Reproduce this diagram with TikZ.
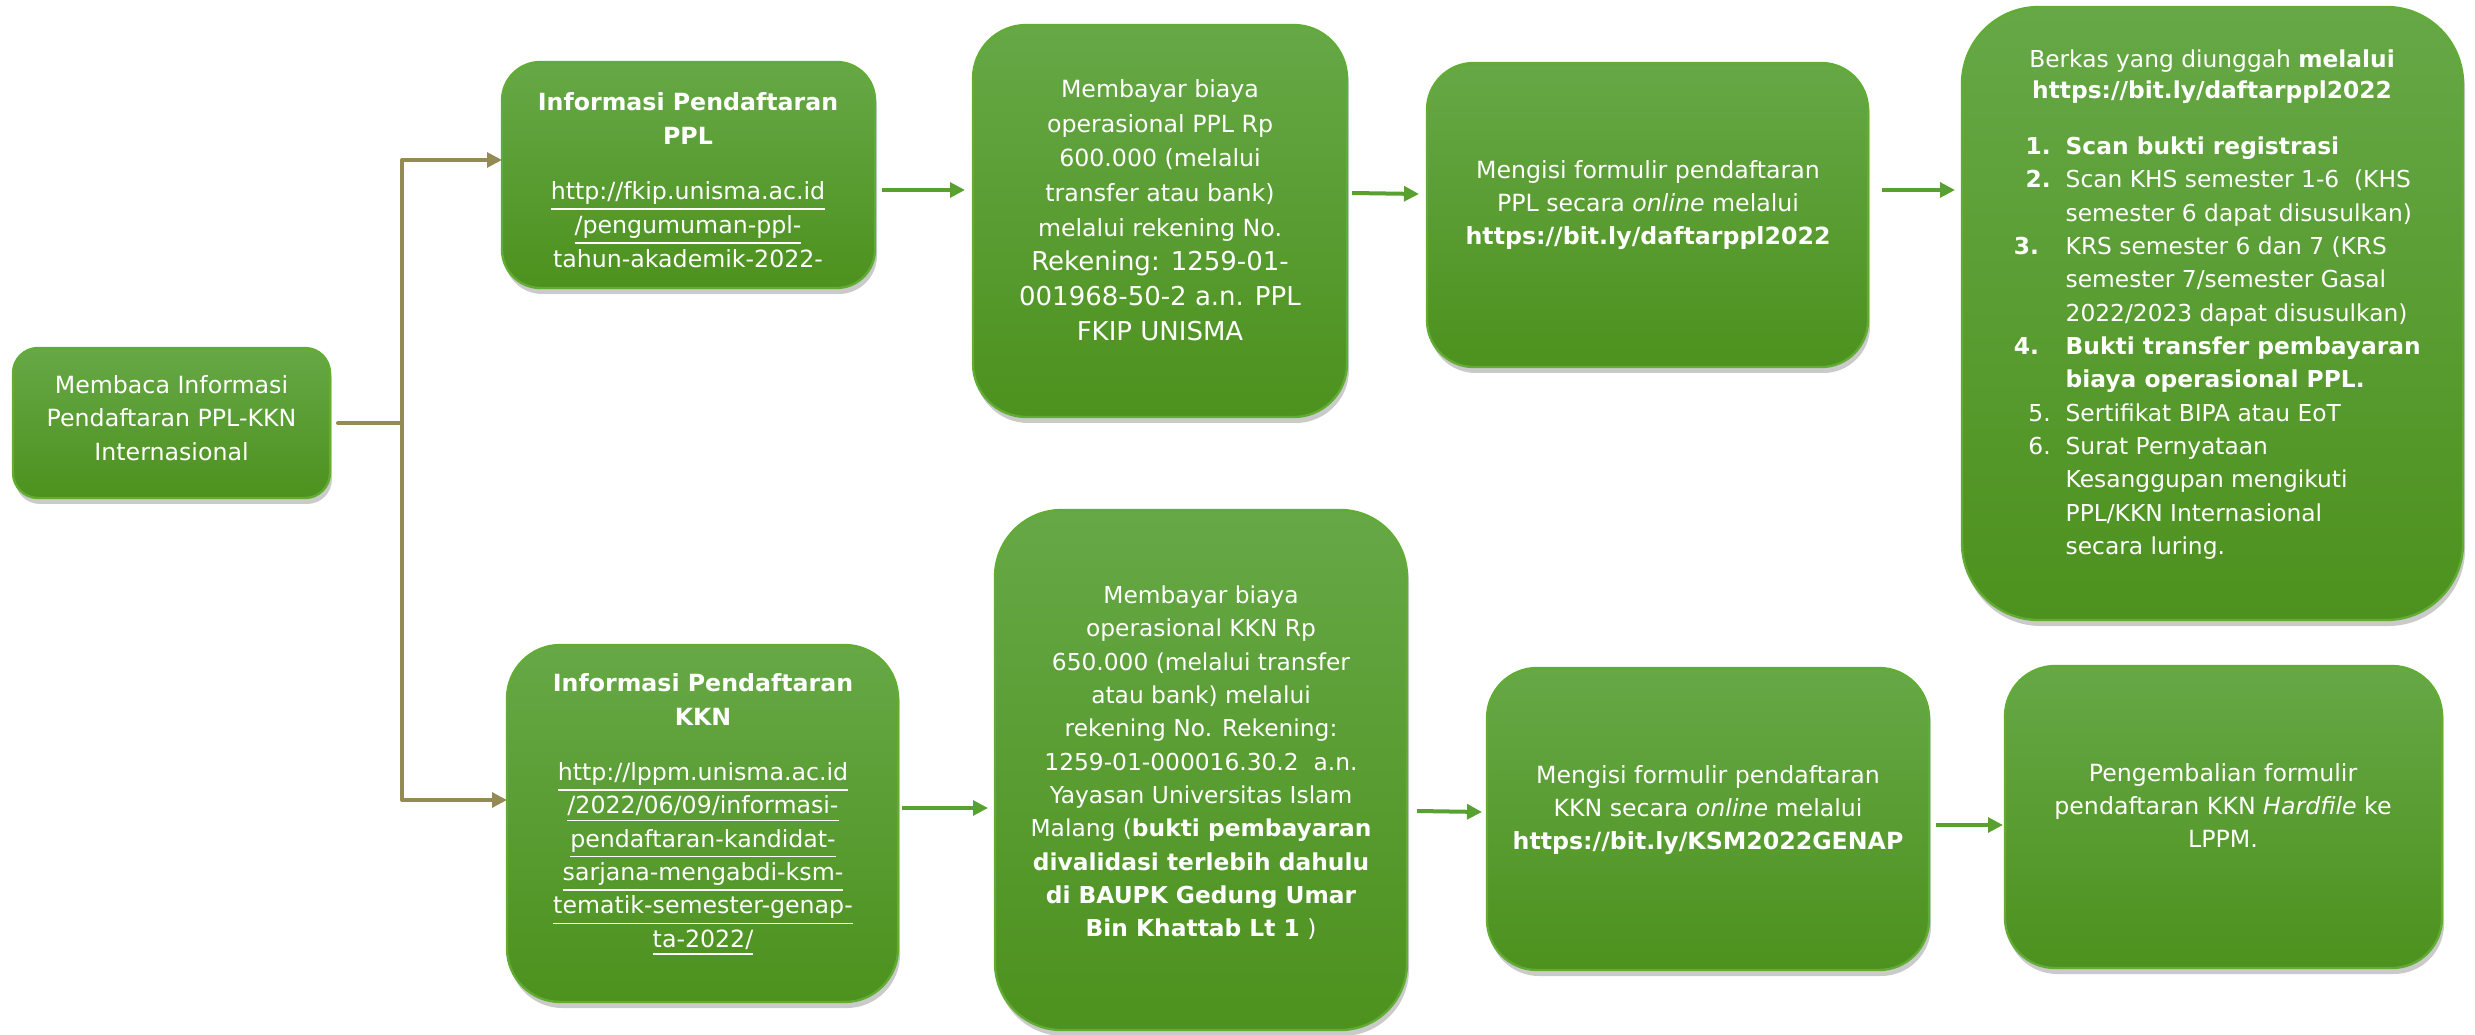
\documentclass[tikz,border=0pt]{standalone}
\usepackage{fontspec}
\setmainfont{DejaVu Sans}
\usetikzlibrary{shadows,calc,arrows.meta}
\definecolor{gTop}{RGB}{102,168,70}
\definecolor{gBot}{RGB}{77,145,30}
\definecolor{gEdge}{RGB}{96,172,52}
\definecolor{gArrow}{RGB}{88,160,48}
\definecolor{trunkC}{RGB}{148,138,84}
\newcommand\fs[2]{\fontsize{#1}{#2}\selectfont}
% name, x1, y1, x2, y2, corner radius (pt)
\newcommand\gbox[6]{%
  \pgfmathsetmacro\gbw{(#4-#2)*0.3}%
  \pgfmathsetmacro\gbh{(#5-#3)*0.3}%
  \node[gshape, rounded corners=#6pt, minimum width=\gbw pt, minimum height=\gbh pt]
    (#1) at ({(#2+#4)/2},{(#3+#5)/2}) {};}
\begin{document}
\begin{tikzpicture}[x=0.3pt,y=-0.3pt,
  gshape/.style={draw=gEdge, line width=0.7pt, inner sep=0pt, outer sep=0pt,
    top color=gTop, bottom color=gBot,
    drop shadow={opacity=0.28, fill=black!75, shadow xshift=0.6pt, shadow yshift=-1.8pt}},
  txt/.style={text=white, align=center, inner sep=0pt, font=\fs{7.1pt}{10.2pt}},
  garrow/.style={draw=gArrow, line width=1.2pt, -{Triangle[length=4.5pt,width=4.4pt]}},
  tline/.style={draw=trunkC, line width=1.2pt, line cap=round},
  tarrow/.style={draw=trunkC, line width=1.2pt, -{Triangle[length=4.5pt,width=4.4pt]}}]
\useasboundingbox (0,0) rectangle (2475,1035);

% boxes
\gbox{b1}{13}{348}{330}{498}{7.5}
\gbox{b2}{502}{62}{875}{288}{11.5}
\gbox{b3}{973}{25}{1347}{417}{16}
\gbox{b4}{1427}{63}{1868}{367}{14}
\gbox{b5}{1962}{7}{2463}{620}{23}
\gbox{b6}{507}{645}{898}{1002}{16}
\gbox{b7}{995}{510}{1407}{1030}{20}
\gbox{b8}{1487}{668}{1929}{970}{15}
\gbox{b9}{2005}{666}{2442}{968}{15}

% trunk
\coordinate (jm) at (402,423);
\coordinate (jt) at (402,160);
\coordinate (jb) at (402,800);
\draw[tline] ($(b1.east)+(8,0)$) -- (jm);
\draw[tline] (jt) -- (jb);
\draw[tarrow] (jt) -- (b2.west |- jt);
\draw[tarrow] (jb) -- (b6.west |- jb);

% green arrows
\draw[garrow] ($(b2.east |- 0,190)+(7,0)$) -- ($(b3.west |- 0,190)+(-8,0)$);
\draw[garrow] ($(b3.east |- 0,193)+(5,0)$) -- ($(b4.west |- 0,194)+(-8,0)$);
\draw[garrow] ($(b4.east |- 0,190)+(14,0)$) -- ($(b5.west |- 0,190)+(-7,0)$);
\draw[garrow] ($(b6.east |- 0,808)+(4,0)$) -- ($(b7.west |- 0,808)+(-7,0)$);
\draw[garrow] ($(b7.east |- 0,811)+(10,0)$) -- ($(b8.west |- 0,812)+(-5,0)$);
\draw[garrow] ($(b8.east |- 0,825)+(7,0)$) -- ($(b9.west |- 0,825)+(-2,0)$);

% texts
\node[txt, font=\fs{7.1pt}{10pt}] (t1) at (171.5,418)
  {Membaca Informasi\\Pendaftaran PPL-KKN\\Internasional};
\node[txt] (t2) at (688,180)
  {\textbf{Informasi Pendaftaran}\\\textbf{PPL}\\[6.3pt]\underline{http://fkip.unisma.ac.id}\\\underline{/pengumuman-ppl-}\\tahun-akademik-2022-};
\node[txt, font=\fs{7.1pt}{10.4pt}] (t3) at (1160,210)
  {Membayar biaya\\operasional PPL Rp\\600.000 (melalui\\transfer atau bank)\\melalui rekening No.\\{\fs{7.8pt}{11pt}Rekening: 1259-01-}\\{\fs{7.8pt}{11pt}001968-50-2 a.n. PPL}\\{\fs{7.8pt}{11pt}FKIP UNISMA}};
\node[txt, font=\fs{7.1pt}{9.9pt}] (t4) at (1648,205)
  {Mengisi formulir pendaftaran\\PPL secara \textit{online} melalui\\\textbf{https://bit.ly/daftarppl2022}};
\node[txt, font=\fs{7pt}{9.3pt}] (t5a) at (2212,77)
  {Berkas yang diunggah \textbf{melalui}\\\textbf{https://bit.ly/daftarppl2022}};
\node[txt, align=left, anchor=west, font=\fs{7pt}{10pt}] (t5b) at (2065,348)
  {\llap{\textbf{1.}\hspace{4.5pt}}\textbf{Scan bukti registrasi}\\
   \llap{\textbf{2.}\hspace{4.5pt}}Scan KHS semester 1-6\ \ (KHS\\
   semester 6 dapat disusulkan)\\
   \llap{\textbf{3.}\hspace{8pt}}KRS semester 6 dan 7 (KRS\\
   semester 7/semester Gasal\\
   2022/2023 dapat disusulkan)\\
   \llap{\textbf{4.}\hspace{8pt}}\textbf{Bukti transfer pembayaran}\\
   \textbf{biaya operasional PPL.}\\
   \llap{5.\hspace{4.5pt}}Sertifikat BIPA atau EoT\\
   \llap{6.\hspace{4.5pt}}Surat Pernyataan\\
   Kesanggupan mengikuti\\
   PPL/KKN Internasional\\
   secara luring.};
\node[txt, font=\fs{7.1pt}{10pt}] (t6) at (703,815)
  {\textbf{Informasi Pendaftaran}\\\textbf{KKN}\\[6.6pt]\underline{http://lppm.unisma.ac.id}\\\underline{/2022/06/09/informasi-}\\\underline{pendaftaran-kandidat-}\\\underline{sarjana-mengabdi-ksm-}\\\underline{tematik-semester-genap-}\\\underline{ta-2022/}};
\node[txt, font=\fs{7pt}{10pt}] (t7) at (1201,763)
  {Membayar biaya\\operasional KKN Rp\\650.000 (melalui transfer\\atau bank) melalui\\rekening No. Rekening:\\1259-01-000016.30.2\ \ a.n.\\Yayasan Universitas Islam\\Malang (\textbf{bukti pembayaran}\\\textbf{divalidasi terlebih dahulu}\\\textbf{di BAUPK Gedung Umar}\\\textbf{Bin Khattab Lt 1} )};
\node[txt, font=\fs{7.1pt}{9.9pt}] (t8) at (1708,810)
  {Mengisi formulir pendaftaran\\KKN secara \textit{online} melalui\\\textbf{https://bit.ly/KSM2022GENAP}};
\node[txt, font=\fs{7.1pt}{9.9pt}] (t9) at (2223,806)
  {Pengembalian formulir\\pendaftaran KKN \textit{Hardfile} ke\\LPPM.};
\end{tikzpicture}
\end{document}
